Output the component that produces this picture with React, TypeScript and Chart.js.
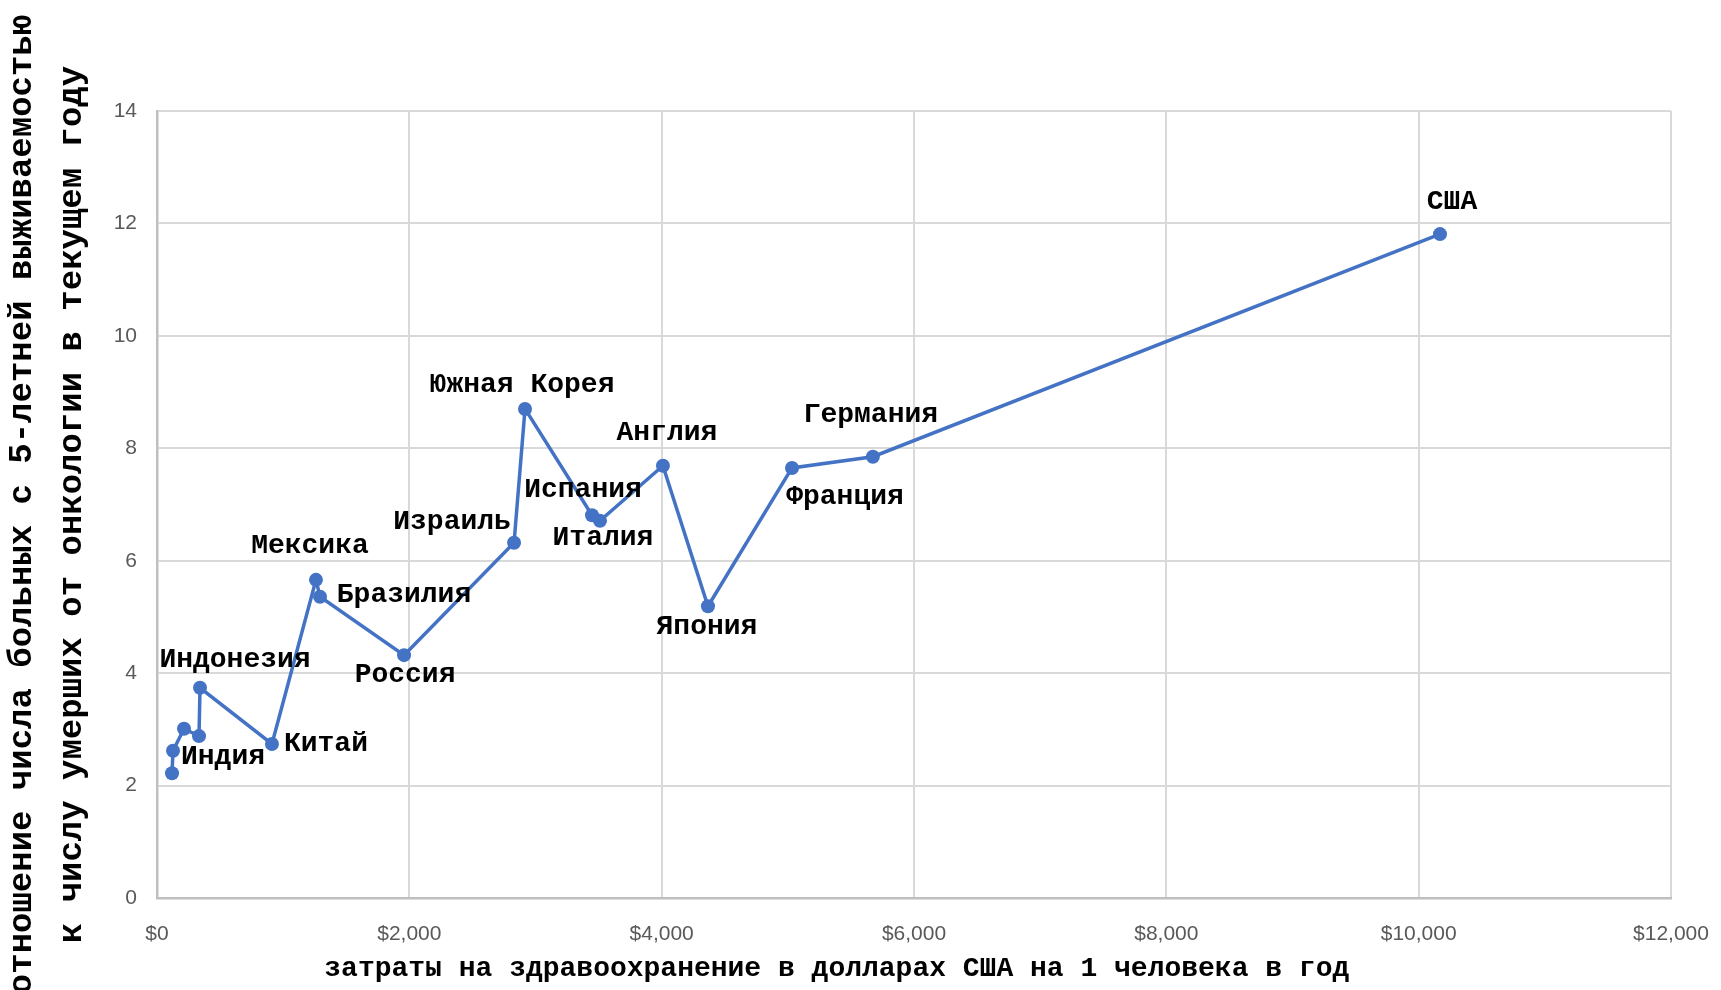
import React, { useEffect, useRef } from "react";
import { Chart, registerables } from "chart.js";

Chart.register(...registerables);

// Spending on healthcare per person (USD) and survival ratio
const countries = [
  "", "Индия", "", "", "Индонезия", "Китай", "Мексика", "Бразилия", "Россия",
  "Израиль", "Южная Корея", "Испания", "Италия", "Англия", "Япония",
  "Франция", "Германия", "США",
];
const spending = [
  119, 127, 214, 333, 341, 911, 1260, 1292, 1958,
  2830, 2917, 3448, 3511, 4010, 4367, 5033, 5674, 10169,
];
const survivalRatio = [
  2.22, 2.62, 3.01, 2.88, 3.74, 2.74, 5.66, 5.36, 4.32,
  6.32, 8.70, 6.81, 6.71, 7.69, 5.19, 7.65, 7.85, 11.81,
];
const xTickMax = 12000;
const xTickStep = 2000;
const yTickMax = 14;
const yTickStep = 2;

const xAxisTitle = "затраты на здравоохранение в долларах США на 1 человека в год";
const yAxisTitle = [
  "отношение числа больных с 5-летней выживаемостью",
  "к числу умерших от онкологии в текущем году",
];

// label placement relative to its point (layout only)
const labelOffsets: [number, number][] = [
  [0, 0], [50, 6], [0, 0], [0, 0], [35, -28], [54, 0], [-6, -34], [84, -2], [1, 20],
  [-62, -21], [-3, -24], [-9, -25], [3, 17], [4, -33], [-1, 21], [53, 29], [-2, -42], [12, -32],
];

const MONO = '"Liberation Mono", "DejaVu Sans Mono", monospace';
const TICK_FONT = '"Liberation Sans Narrow", "Liberation Sans", Roboto, sans-serif';

const pointLabelsPlugin = {
  id: "pointLabels",
  afterDatasetsDraw(chart: any) {
    const meta = chart.getDatasetMeta(0);
    const ctx = chart.ctx;
    ctx.save();
    ctx.font = `bold 28px ${MONO}`;
    ctx.fillStyle = "#000000";
    ctx.textAlign = "center";
    ctx.textBaseline = "middle";
    meta.data.forEach((el: any, i: number) => {
      const name = countries[i];
      if (!name) return;
      const [dx, dy] = labelOffsets[i];
      ctx.fillText(name, el.x + dx, el.y + dy);
    });
    ctx.restore();
  },
};

const xTitlePlugin = {
  id: "xTitle",
  afterDraw(chart: any) {
    const { ctx, chartArea } = chart;
    ctx.save();
    ctx.font = `bold 28px ${MONO}`;
    ctx.fillStyle = "#000000";
    ctx.textAlign = "center";
    ctx.textBaseline = "middle";
    ctx.fillText(xAxisTitle, chartArea.left + chartArea.width * 0.449, chartArea.bottom + 71);
    ctx.restore();
  },
};

export default function App() {
  const ref = useRef<HTMLCanvasElement | null>(null);
  useEffect(() => {
    if (!ref.current) return;
    const chart = new Chart(ref.current, {
      type: "scatter",
      data: {
        datasets: [
          {
            data: spending.map((x, i) => ({ x, y: survivalRatio[i] })),
            showLine: true,
            borderColor: "#4472C4",
            backgroundColor: "#4472C4",
            borderWidth: 3.5,
            pointRadius: 7,
            pointBorderWidth: 0,
            pointHoverRadius: 7,
            tension: 0,
          },
        ],
      },
      options: {
        responsive: false,
        animation: false,
        devicePixelRatio: 1,
        layout: { padding: { top: 111, right: 50, left: 0, bottom: 0 } },
        plugins: {
          legend: { display: false },
          tooltip: { enabled: false },
          title: { display: false },
        },
        scales: {
          x: {
            type: "linear",
            min: 0,
            max: xTickMax,
            ticks: {
              stepSize: xTickStep,
              color: "#595959",
              font: { family: TICK_FONT, size: 21 },
              padding: 24,
              callback: (v: any) => "$" + Number(v).toLocaleString("en-US"),
            },
            grid: { color: "#d9d9d9", lineWidth: 2, drawTicks: false },
            border: { color: "#bfbfbf", width: 2.5 },
            afterFit: (s: any) => {
              s.height = 92;
              s.paddingLeft = 0;
              s.paddingRight = 0;
            },
          },
          y: {
            min: 0,
            max: yTickMax,
            ticks: {
              stepSize: yTickStep,
              color: "#595959",
              font: { family: TICK_FONT, size: 21 },
              padding: 20,
            },
            grid: { color: "#d9d9d9", lineWidth: 2, drawTicks: false },
            border: { color: "#bfbfbf", width: 2.5 },
            title: {
              display: true,
              text: yAxisTitle,
              color: "#000000",
              font: { family: MONO, size: 34, weight: "bold", lineHeight: 1.47 },
              padding: { top: -3, bottom: 0 },
            },
            afterFit: (s: any) => {
              s.width = 157;
              s.paddingTop = 0;
              s.paddingBottom = 0;
            },
          },
        },
      },
      plugins: [pointLabelsPlugin, xTitlePlugin],
    });
    return () => chart.destroy();
  }, []);
  return (
    <div style={{ position: "absolute", left: 0, top: 0, width: 1721, height: 990, background: "#ffffff" }}>
      <canvas ref={ref} width={1721} height={990} style={{ display: "block" }} />
    </div>
  );
}
